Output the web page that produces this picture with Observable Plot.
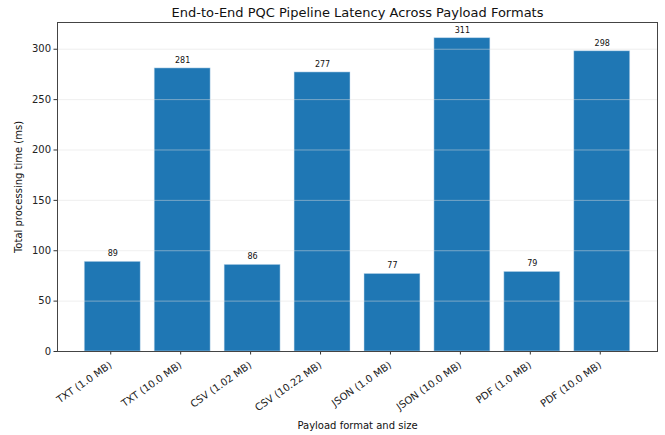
<!DOCTYPE html>
<html>
<head>
<meta charset="utf-8">
<script src="https://cdn.jsdelivr.net/npm/d3@7"></script>
<script src="https://cdn.jsdelivr.net/npm/@observablehq/plot@0.6"></script>
<style>
  html, body { margin: 0; padding: 0; background: #fff; }
  #chart svg { display: block; }
</style>
</head>
<body>
<div id="chart"></div>
<script>
const categories = ["TXT (1.0 MB)", "TXT (10.0 MB)", "CSV (1.02 MB)", "CSV (10.22 MB)", "JSON (1.0 MB)", "JSON (10.0 MB)", "PDF (1.0 MB)", "PDF (10.0 MB)"];
const values = [89, 281, 86, 277, 77, 311, 79, 298];
const yTicks = [0, 50, 100, 150, 200, 250, 300];
const title = "End-to-End PQC Pipeline Latency Across Payload Formats";
const xLabel = "Payload format and size";
const yLabel = "Total processing time (ms)";

const data = categories.map((c, i) => ({category: c, value: values[i]}));
const font = "DejaVu Sans, sans-serif";

const chart = Plot.plot({
  width: 665,
  height: 435,
  marginLeft: 57,
  marginRight: 8,
  marginTop: 22,
  marginBottom: 84,
  style: {fontFamily: font, fontSize: "10px", color: "#222", background: "#fff"},
  x: {
    domain: categories,
    paddingInner: 0.2,
    paddingOuter: 0.39,
    round: false,
    label: null,
    axis: null
  },
  y: {
    domain: [0, 326.55],
    label: null,
    axis: null
  },
  marks: [
    Plot.barY(data, {x: "category", y: "value", fill: "#1f77b4", stroke: "#d0e2f2", strokeOpacity: 0.6, strokeWidth: 0.8}),
    Plot.gridY(yTicks, {stroke: "#dddddd", strokeOpacity: 0.6, strokeWidth: 0.8}),
    Plot.axisY(yTicks, {tickSize: 3.5, tickPadding: 3, fontSize: 10, label: null, stroke: "#333"}),
    Plot.axisX({tickSize: 3.5, tickRotate: -35, tickPadding: 9, dx: -2, fontSize: 10, label: null, stroke: "#333"}),
    Plot.text(data, {x: "category", y: "value", text: d => String(d.value), dy: -8, fontSize: 8, fill: "#111"}),
    Plot.frame({stroke: "#444", strokeWidth: 1}),
    Plot.text([title], {frameAnchor: "top", lineAnchor: "middle", dy: -10, fontSize: 13, fill: "#111"}),
    Plot.text([xLabel], {frameAnchor: "bottom", lineAnchor: "middle", dy: 74, fontSize: 10, fill: "#111"}),
    Plot.text([yLabel], {frameAnchor: "left", textAnchor: "middle", dx: -39, rotate: -90, fontSize: 10, fill: "#111"})
  ]
});
document.getElementById("chart").appendChild(chart);
</script>
</body>
</html>
